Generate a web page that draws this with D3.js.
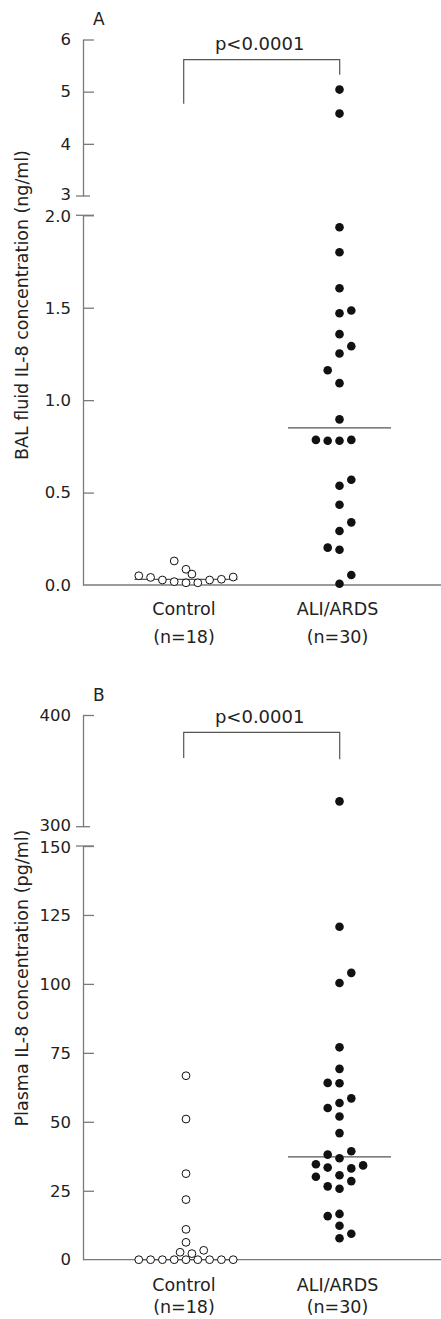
<!DOCTYPE html>
<html>
<head>
<meta charset="utf-8">
<script src="https://cdn.jsdelivr.net/npm/d3@7"></script>
<style>
  body { margin: 0; background: #fff; }
  svg text { font-family: "DejaVu Sans", sans-serif; fill: #222; }
</style>
</head>
<body>
<div id="chart"></div>
<script>
// categories
const groups = ["Control", "ALI/ARDS"];
const groupN = ["(n=18)", "(n=30)"];

// panel A - BAL fluid IL-8 (ng/ml)
const balControl = [0.050, 0.041, 0.027, 0.130, 0.018, 0.085, 0.012, 0.059, 0.012, 0.027, 0.031, 0.043];
const balControlLane = [-4, -3, -2, -1, -1, 0, 0, 0.5, 1, 2, 3, 4];
const balAli = [5.04, 4.58, 1.935, 1.80, 1.605, 1.47, 1.485, 1.357, 1.292, 1.252, 1.162, 1.092, 0.896,
  0.785, 0.78, 0.78, 0.785, 0.569, 0.537, 0.434, 0.339, 0.292, 0.202, 0.191, 0.054, 0.007];
const balAliLane = [0, 0, 0, 0, 0, 0, 1, 0, 1, 0, -1, 0, 0, -2, -1, 0, 1, 1, 0, 0, 1, 0, -1, 0, 1, 0];
const balMedians = [0.03, 0.85];
const balTicksUpper = [3, 4, 5, 6];
const balTicksLower = [0, 0.5, 1, 1.5, 2];

// panel B - plasma IL-8 (pg/ml)
const plasmaControl = [66.7, 51.0, 31.2, 21.8, 11.0, 6.3, 2.7, 2.2, 3.4, 0, 0, 0, 0, 0, 0, 0, 0, 0];
const plasmaControlLane = [0, 0, 0, 0, 0, 0, -0.5, 0.5, 1.5, -4, -3, -2, -1, 0, 1, 2, 3, 4];
const plasmaAli = [322.7, 120.7, 104.0, 100.3, 77.0, 69.2, 64.1, 64.0, 58.5, 56.8, 55.0, 51.9, 45.9,
  38.1, 39.3, 36.8, 34.6, 33.4, 33.1, 34.2, 30.1, 30.6, 28.5, 26.6, 25.7, 15.8, 16.6, 12.3, 9.4, 7.8];
const plasmaAliLane = [0, 0, 1, 0, 0, 0, -1, 0, 1, 0, -1, 0, 0, -1, 1, 0, -2, -1, 1, 2, -2, 0, 1, -1, 0, -1, 0, 0, 1, 0];
const plasmaMedians = [0, 37.3];
const plasmaTicksUpper = [300, 400];
const plasmaTicksLower = [0, 25, 50, 75, 100, 125, 150];

const W = 441, H = 1319;
const axisX = 83;
const axisColor = "#7a7a7a";

const svg = d3.select("#chart").append("svg")
  .attr("width", W).attr("height", H);

// shared horizontal scales
const x = d3.scalePoint().domain(groups).range([186, 339.5]);
const lane = d3.scaleLinear().domain([0, 1]).range([0, 11.8]);

const panels = [
  {
    letter: "A", letterY: 25,
    title: "BAL fluid IL-8 concentration (ng/ml)", titleY: 305, titleLen: 310,
    upper: [3, 6], upperRange: [196, 39.5], lower: [0, 2], lowerRange: [585, 215.3],
    ticksUpper: balTicksUpper, ticksLower: balTicksLower, fmtLower: d3.format(".1f"),
    series: [[balControl, balControlLane], [balAli, balAliLane]],
    medians: balMedians,
    bracket: { top: 59.7, left: 103.7, right: 74.7 },
    labelDy: [30, 58]
  },
  {
    letter: "B", letterY: 701,
    title: "Plasma IL-8 concentration (pg/ml)", titleY: 978, titleLen: 297,
    upper: [300, 400], upperRange: [826.7, 715], lower: [0, 150], lowerRange: [1259.7, 846],
    ticksUpper: plasmaTicksUpper, ticksLower: plasmaTicksLower, fmtLower: d3.format("d"),
    series: [[plasmaControl, plasmaControlLane], [plasmaAli, plasmaAliLane]],
    medians: plasmaMedians,
    bracket: { top: 732.3, left: 758, right: 759.3 },
    labelDy: [31, 53]
  }
];

panels.forEach(function(p) {
  const yU = d3.scaleLinear().domain(p.upper).range(p.upperRange);
  const yL = d3.scaleLinear().domain(p.lower).range(p.lowerRange);
  const y = function(v) { return v > p.lower[1] ? yU(v) : yL(v); };

  const g = svg.append("g");

  // upper axis segment
  const axU = g.append("g")
    .attr("transform", "translate(" + axisX + ",0)")
    .call(d3.axisLeft(yU).tickValues(p.ticksUpper).tickFormat(d3.format("d"))
      .tickSizeInner(-11).tickSizeOuter(0).tickPadding(12));
  // lower axis segment
  const axL = g.append("g")
    .attr("transform", "translate(" + axisX + ",0)")
    .call(d3.axisLeft(yL).tickValues(p.ticksLower).tickFormat(p.fmtLower)
      .tickSizeInner(-11).tickSizeOuter(0).tickPadding(12));

  [axU, axL].forEach(function(ax) {
    ax.attr("font-family", null).attr("font-size", null);
    ax.selectAll("path, line").attr("stroke", axisColor).attr("stroke-width", 1.3);
    ax.selectAll("text").style("font-size", "16.5px").attr("fill", "#222");
  });
  // labels at the break sit close together: nudge apart a little
  axU.selectAll(".tick").filter(function(d) { return d === p.upper[0]; })
    .select("text").attr("dy", "0.2em");
  axL.selectAll(".tick").filter(function(d) { return d === p.lower[1]; })
    .select("text").attr("dy", "0.4em");
  // bottom tick of lower segment hidden (x-axis drawn instead)
  axL.selectAll(".tick").filter(function(d) { return d === p.lower[0]; }).select("line").remove();
  // upper break tick replaced by a crossing tick
  axU.selectAll(".tick").filter(function(d) { return d === p.upper[0]; }).select("line").remove();

  // break ticks crossing the axis
  [yU(p.upper[0]), yL(p.lower[1])].forEach(function(yy, i) {
    g.append("line")
      .attr("x1", axisX - 7).attr("x2", axisX + (i === 0 ? 7 : 11))
      .attr("y1", yy).attr("y2", yy)
      .attr("stroke", axisColor).attr("stroke-width", 1.3);
  });

  // x axis
  g.append("line")
    .attr("x1", axisX).attr("x2", W)
    .attr("y1", yL(0)).attr("y2", yL(0))
    .attr("stroke", axisColor).attr("stroke-width", 1.3);

  // category labels
  groups.forEach(function(c, i) {
    const t = g.append("text")
      .attr("text-anchor", "middle")
      .style("font-size", "17.5px");
    t.append("tspan").attr("x", x(c) - 2).attr("y", yL(0) + p.labelDy[0]).text(c);
    t.append("tspan").attr("x", x(c) - 2).attr("y", yL(0) + p.labelDy[1]).text(groupN[i]);
  });

  // medians
  p.medians.forEach(function(m, i) {
    g.append("line")
      .attr("x1", x(groups[i]) - 51.5).attr("x2", x(groups[i]) + 51.5)
      .attr("y1", y(m)).attr("y2", y(m))
      .attr("stroke", "#555").attr("stroke-width", 1.2);
  });

  // points
  p.series.forEach(function(s, i) {
    const pts = s[0].map(function(v, k) { return { v: v, lane: s[1][k] }; });
    g.selectAll(".dot" + i)
      .data(pts)
      .enter()
      .append("circle")
      .attr("class", "dot" + i)
      .attr("cx", function(d) { return x(groups[i]) + lane(d.lane); })
      .attr("cy", function(d) { return y(d.v); })
      .attr("r", i === 0 ? 3.9 : 4.3)
      .attr("fill", i === 0 ? "#fff" : "#111")
      .attr("stroke", "#111")
      .attr("stroke-width", i === 0 ? 1 : 0);
  });

  // significance bracket
  const x0 = x(groups[0]) - 2.3, x1 = x(groups[1]) + 0.2;
  g.append("path")
    .attr("d", "M" + x0 + "," + p.bracket.left + "V" + p.bracket.top + "H" + x1 + "V" + p.bracket.right)
    .attr("fill", "none").attr("stroke", "#555").attr("stroke-width", 1.2);
  g.append("text")
    .attr("x", (x0 + x1) / 2 - 2).attr("y", p.bracket.top - 9.5)
    .attr("text-anchor", "middle")
    .style("font-size", "18px")
    .text("p<0.0001");

  // panel letter
  g.append("text")
    .attr("x", 93).attr("y", p.letterY)
    .style("font-size", "17px")
    .text(p.letter);

  // y title, sized to the reference length
  const title = g.append("text")
    .attr("transform", "translate(28," + p.titleY + ") rotate(-90)")
    .attr("text-anchor", "middle")
    .style("font-size", "16px")
    .text(p.title);
  const len = title.node().getComputedTextLength();
  title.style("font-size", (16 * p.titleLen / len).toFixed(2) + "px");
});
</script>
</body>
</html>
